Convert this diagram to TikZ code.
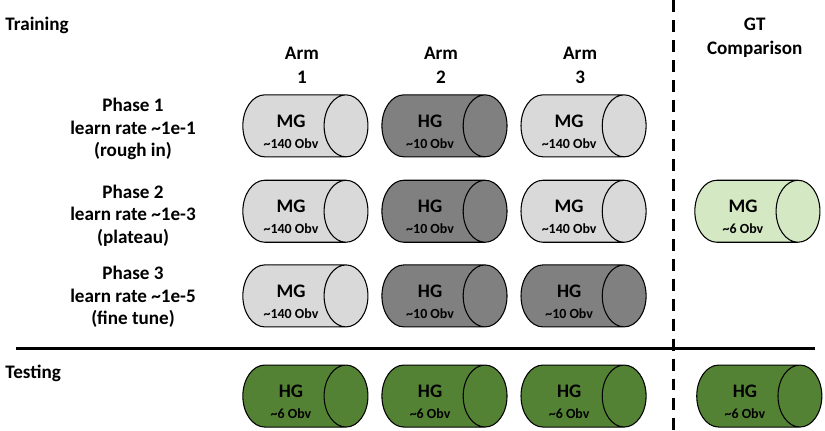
\documentclass[tikz,border=0pt]{standalone}
\usepackage{fontspec}
\setmainfont{Carlito}
\usepackage{tikz}
\usetikzlibrary{shapes.geometric}

\definecolor{mgGray}{HTML}{D9D9D9}
\definecolor{hgGray}{HTML}{808080}
\definecolor{mgGreen}{HTML}{D5E8C4}
\definecolor{hgGreen}{HTML}{548235}

% group label and number of observations, set a little low in the cylinder
\newcommand{\cyltext}[2]{\raisebox{-9pt}[14pt][14pt]{\begin{tabular}{@{}c@{}}#1\\[-2pt]
    {\fontsize{10.5}{12}\selectfont\textasciitilde#2 Obv}\end{tabular}}}

\begin{document}
\begin{tikzpicture}[
    cyl/.style={cylinder, draw=black, line width=0.8pt, shape aspect=1.1,
                minimum height=3.31cm, minimum width=1.64cm, inner sep=1pt,
                font=\Large\bfseries},
    head/.style={align=center, font=\Large\bfseries},
    sect/.style={anchor=west, font=\Large\bfseries},
    sep/.style={line width=2.2pt}
]
\useasboundingbox (0,0) rectangle (21.83,11.38);

% section titles
\node[sect] (train) at (0.02, 10.70) {Training};
\node[sect] (test) at (0.02, 1.50) {Testing};

% column headers
\node[head] (h1) at (7.99, 9.66) {Arm\\1};
\node[head] (h2) at (11.67, 9.66) {Arm\\2};
\node[head] (h3) at (15.35, 9.66) {Arm\\3};
\node[head] (hgt) at (19.97, 10.37) {GT\\Comparison};

% phase labels
\node[head] (p1) at (3.52, 7.96) {Phase 1\\[-1pt]learn rate \textasciitilde1e-1\\[-1pt](rough in)};
\node[head] (p2) at (3.52, 5.67) {Phase 2\\[-1pt]learn rate \textasciitilde1e-3\\[-1pt](plateau)};
\node[head] (p3) at (3.52, 3.52) {Phase 3\\[-1pt]learn rate \textasciitilde1e-5\\[-1pt](fine tune)};

% PHASE 1
\node[cyl, fill=mgGray] (a1p1) at (7.70, 8.05) {\cyltext{MG}{140}};
\node[cyl, fill=hgGray] (a2p1) at (11.38, 8.05) {\cyltext{HG}{10}};
\node[cyl, fill=mgGray] (a3p1) at (15.06, 8.05) {\cyltext{MG}{140}};

% PHASE 2
\node[cyl, fill=mgGray] (a1p2) at (7.70, 5.79) {\cyltext{MG}{140}};
\node[cyl, fill=hgGray] (a2p2) at (11.38, 5.79) {\cyltext{HG}{10}};
\node[cyl, fill=mgGray] (a3p2) at (15.06, 5.79) {\cyltext{MG}{140}};
\node[cyl, fill=mgGreen] (gtp2) at (19.66, 5.79) {\cyltext{MG}{6}};

% PHASE 3
\node[cyl, fill=mgGray] (a1p3) at (7.70, 3.55) {\cyltext{MG}{140}};
\node[cyl, fill=hgGray] (a2p3) at (11.38, 3.55) {\cyltext{HG}{10}};
\node[cyl, fill=hgGray] (a3p3) at (15.06, 3.55) {\cyltext{HG}{10}};

% TESTING
\node[cyl, fill=hgGreen] (a1t) at (7.70, 0.90) {\cyltext{HG}{6}};
\node[cyl, fill=hgGreen] (a2t) at (11.38, 0.90) {\cyltext{HG}{6}};
\node[cyl, fill=hgGreen] (a3t) at (15.06, 0.90) {\cyltext{HG}{6}};
\node[cyl, fill=hgGreen] (gtt) at (19.71, 0.90) {\cyltext{HG}{6}};

% separators
\coordinate (hl) at (0.42, 2.17);
\coordinate (hr) at (21.56, 2.17);
\coordinate (vt) at (17.81, 11.38);
\coordinate (vb) at (17.81, 0);
\draw[sep] (hl) -- (hr);
\draw[sep, dash pattern=on 9pt off 6pt] (vt) -- (vb);

\end{tikzpicture}
\end{document}
